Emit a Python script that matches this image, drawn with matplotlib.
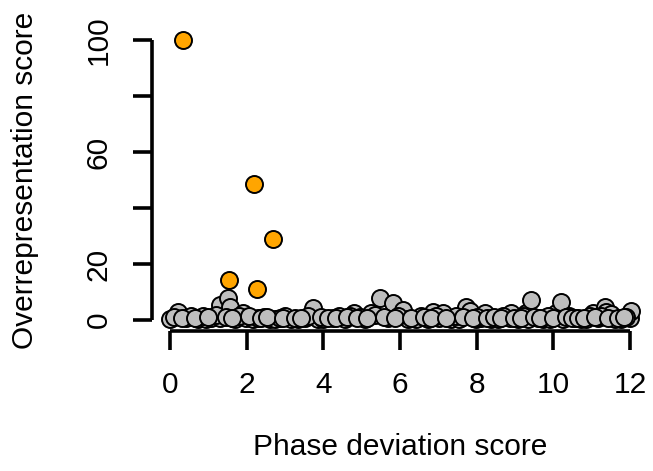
import matplotlib
matplotlib.use("Agg")
import matplotlib.pyplot as plt

plt.rcParams['font.family'] = ['Liberation Sans', 'DejaVu Sans']

# Grey (background) points: phase deviation score, overrepresentation score
grey_x = [0.00, 0.21, 0.42, 0.73, 0.95, 1.08, 1.30, 1.30, 1.51, 1.56, 1.69, 1.90, 1.98,
          2.16, 2.29, 2.60, 2.73, 2.87, 3.16, 3.33, 3.51, 3.72, 3.86,
          4.00, 4.25, 4.56, 4.80, 5.08, 5.24, 5.47, 5.68, 5.81, 6.08, 6.21, 6.42,
          6.73, 6.86, 7.03, 7.12, 7.33, 7.55, 7.72, 7.82, 7.98,
          8.11, 8.21, 8.37, 8.55, 8.86, 8.90, 9.08, 9.30, 9.34, 9.42, 9.60, 9.73,
          9.91, 10.07, 10.20, 10.25, 10.56, 10.73, 10.85, 11.03, 11.16, 11.35,
          11.38, 11.50, 11.60, 11.77, 12.00, 12.03,
          0.10, 0.55, 0.85, 1.20, 1.45, 1.80, 2.05, 2.45, 3.00, 3.60, 4.40, 4.70,
          4.95, 5.35, 5.95, 6.55, 6.95, 7.45, 8.00, 8.70, 9.20, 9.85, 10.40, 10.95,
          11.25, 11.90,
          0.30, 0.65, 1.00, 1.62, 2.38, 2.52, 2.95, 3.25, 3.43, 3.95, 4.12, 4.33,
          4.63, 4.88, 5.15, 5.57, 5.88, 6.30, 6.62, 6.80, 7.20, 7.64, 7.90, 8.28,
          8.46, 8.63, 8.98, 9.15, 9.50, 9.66, 10.00, 10.33, 10.48, 10.64, 10.80,
          11.10, 11.42, 11.68, 11.84]
grey_y = [0.3, 2.8, 0.6, 0.4, 0.5, 0.7, 0.6, 5.4, 7.9, 4.5, 0.5, 2.5, 0.6,
          0.4, 0.7, 0.5, 0.4, 0.6, 0.5, 0.4, 0.6, 4.3, 0.5,
          0.4, 0.6, 0.5, 2.5, 0.4, 2.5, 7.9, 0.6, 6.0, 3.6, 0.5, 0.4,
          0.5, 3.0, 0.6, 2.5, 0.4, 0.5, 4.6, 3.3, 0.5,
          0.6, 2.5, 0.4, 0.5, 0.6, 2.5, 0.4, 2.5, 0.5, 7.1, 0.6, 0.4,
          0.5, 2.5, 6.5, 0.4, 0.6, 0.5, 0.4, 2.5, 0.6, 4.5,
          2.8, 2.0, 0.5, 0.4, 0.6, 3.3,
          1.2, 1.5, 1.3, 1.8, 1.1, 1.4, 1.6, 1.2, 1.5, 1.3, 1.4, 1.6,
          1.2, 1.7, 1.3, 1.5, 1.4, 1.6, 1.2, 1.3, 1.5, 1.4, 1.6, 1.3,
          1.5, 1.2,
          0.8, 0.9, 1.0, 0.7, 0.9, 1.0, 0.8, 0.9, 0.7, 1.0, 0.8, 0.9,
          1.0, 0.8, 0.9, 1.1, 0.7, 0.9, 1.0, 0.8, 0.9, 1.0, 0.8, 0.9,
          1.0, 0.7, 0.9, 0.8, 1.0, 0.9, 0.8, 1.0, 0.7, 0.9, 0.8,
          1.0, 0.9, 0.8, 1.0]

# Highlighted (orange) points
hi_x = [0.35, 2.19, 2.69, 1.54, 2.27]
hi_y = [100.0, 48.6, 28.9, 14.3, 11.0]

x_ticks = [0, 2, 4, 6, 8, 10, 12]
y_ticks = [0, 20, 40, 60, 80, 100]
y_tick_labels = ['0', '20', '', '60', '', '100']

W, H = 653, 471
fig = plt.figure(figsize=(W / 100, H / 100), dpi=100)
ax = fig.add_axes([152 / W, (H - 331) / H, 496 / W, 302 / H])

ax.scatter(grey_x, grey_y, s=150, c='#BEBEBE', edgecolors='black', linewidths=1.4, zorder=3, clip_on=False)
ax.scatter(hi_x, hi_y, s=150, c='#FFA500', edgecolors='black', linewidths=1.4, zorder=4, clip_on=False)

ax.set_xlim(-0.47, 12.47)
ax.set_ylim(-3.9, 104)

for s in ['top', 'right']:
    ax.spines[s].set_visible(False)
ax.spines['left'].set_bounds(0, 100)
ax.spines['bottom'].set_bounds(0, 12)
for s in ['left', 'bottom']:
    ax.spines[s].set_linewidth(2.6)
    ax.spines[s].set_capstyle('butt')

ax.set_xticks(x_ticks)
ax.set_xticklabels([str(t) for t in x_ticks])
ax.set_yticks(y_ticks)
ax.set_yticklabels(y_tick_labels, rotation=90, va='center')
ax.tick_params(axis='both', length=13.5, width=2.6, labelsize=21.5)
ax.tick_params(axis='x', pad=15)
ax.tick_params(axis='y', pad=15)

ax.set_xlabel('Phase deviation score', fontsize=21.5)
ax.set_ylabel('Overrepresentation score', fontsize=21.5)
ax.xaxis.set_label_coords(0.5, -0.384)
ax.yaxis.set_label_coords(-0.256, 0.5)
ax.xaxis.label.set_va('center')
ax.yaxis.label.set_va('center')

fig.savefig('out.png', dpi=100)
